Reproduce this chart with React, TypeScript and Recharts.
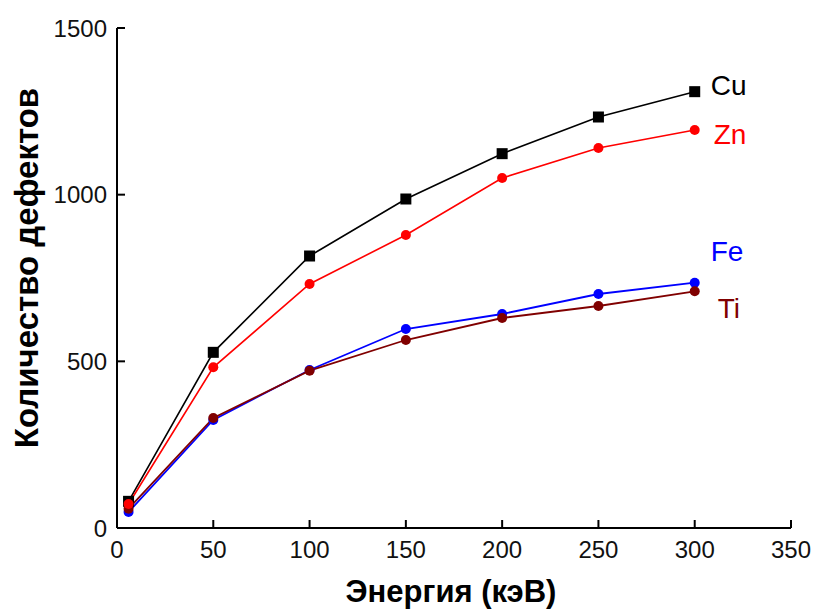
import { LineChart, Line, XAxis, YAxis, Label } from "recharts";

const energies = [6, 50, 100, 150, 200, 250, 300];
const cu = [80, 527, 816, 987, 1123, 1233, 1309];
const zn = [72, 482, 732, 879, 1050, 1140, 1194];
const fe = [48, 324, 474, 597, 642, 702, 736];
const ti = [58, 330, 472, 564, 630, 666, 710];

const xTicks = [0, 50, 100, 150, 200, 250, 300, 350];
const yTicks = [0, 500, 1000, 1500];

const FONT = '"Liberation Sans", Arial, sans-serif';

const data = energies.map((e, i) => ({
  energy: e,
  cu: cu[i],
  zn: zn[i],
  fe: fe[i],
  ti: ti[i],
}));

const last = energies.length - 1;

const endLabel = (text: string, color: string, dx: number, dy: number) =>
  (props: any) => {
    if (props.index !== last) return null;
    return (
      <text
        key="lbl"
        x={props.x + dx}
        y={props.y + dy}
        fill={color}
        fontSize={28}
        fontFamily={FONT}
      >
        {text}
      </text>
    );
  };

const SquareDot = (props: any) => {
  const { cx, cy } = props;
  if (cx == null || cy == null) return null;
  return <rect x={cx - 5.5} y={cy - 5.5} width={11} height={11} fill="#000" />;
};

const tickStyle = { fill: "#111", fontSize: 24, fontFamily: FONT };
const axisLine = { stroke: "#000", strokeWidth: 2 };

export default function App() {
  return (
    <div style={{ position: "absolute", left: 0, top: 0, background: "#fff" }}>
      <LineChart
        width={815}
        height={612}
        data={data}
        margin={{ top: 28, right: 24, bottom: 0, left: 0 }}
      >
        <XAxis
          xAxisId="bottom"
          dataKey="energy"
          type="number"
          domain={[0, 350]}
          ticks={xTicks}
          height={84}
          tickSize={-8}
          tickMargin={21}
          axisLine={axisLine}
          tickLine={axisLine}
          tick={tickStyle}
          interval={0}
        >
          <Label
            content={({ viewBox }: any) => (
              <text
                x={viewBox.x + viewBox.width / 2 - 3}
                y={602}
                textAnchor="middle"
                fontSize={31}
                fontWeight="bold"
                fontFamily={FONT}
                fill="#000"
              >
                Энергия (кэВ)
              </text>
            )}
          />
        </XAxis>
        <XAxis
          xAxisId="top"
          orientation="top"
          dataKey="energy"
          type="number"
          domain={[0, 350]}
          ticks={xTicks}
          height={0}
          tickSize={-8}
          axisLine={axisLine}
          tickLine={axisLine}
          tickFormatter={() => ""}
          interval={0}
        />
        <YAxis
          yAxisId="left"
          domain={[0, 1500]}
          ticks={yTicks}
          width={117}
          tickSize={-8}
          tickMargin={18}
          axisLine={axisLine}
          tickLine={axisLine}
          tick={tickStyle}
          interval={0}
        >
          <Label
            content={({ viewBox }: any) => {
              const cx = 38;
              const cy = viewBox.y + viewBox.height / 2 - 10;
              return (
                <text
                  transform={`translate(${cx},${cy}) rotate(-90)`}
                  textAnchor="middle"
                  fontSize={33}
                  fontWeight="bold"
                  fontFamily={FONT}
                  fill="#000"
                >
                  Количество дефектов
                </text>
              );
            }}
          />
        </YAxis>
        <YAxis
          yAxisId="right"
          orientation="right"
          domain={[0, 1500]}
          ticks={yTicks}
          width={0}
          tickSize={-8}
          axisLine={axisLine}
          tickLine={axisLine}
          tickFormatter={() => ""}
          interval={0}
        />
        <Line
          xAxisId="bottom"
          yAxisId="left"
          dataKey="fe"
          stroke="#0000ff"
          strokeWidth={1.8}
          dot={{ r: 5, fill: "#0000ff", stroke: "none" }}
          label={endLabel("Fe", "#0000ff", 16, -22)}
          isAnimationActive={false}
        />
        <Line
          xAxisId="bottom"
          yAxisId="left"
          dataKey="ti"
          stroke="#800000"
          strokeWidth={1.8}
          dot={{ r: 5, fill: "#800000", stroke: "none" }}
          label={endLabel("Ti", "#800000", 23, 27)}
          isAnimationActive={false}
        />
        <Line
          xAxisId="bottom"
          yAxisId="left"
          dataKey="cu"
          stroke="#000"
          strokeWidth={1.6}
          dot={<SquareDot />}
          label={endLabel("Cu", "#000", 16, 3)}
          isAnimationActive={false}
        />
        <Line
          xAxisId="bottom"
          yAxisId="left"
          dataKey="zn"
          stroke="#ff0000"
          strokeWidth={1.6}
          dot={{ r: 5, fill: "#ff0000", stroke: "none" }}
          label={endLabel("Zn", "#ff0000", 19, 14)}
          isAnimationActive={false}
        />
      </LineChart>
    </div>
  );
}
